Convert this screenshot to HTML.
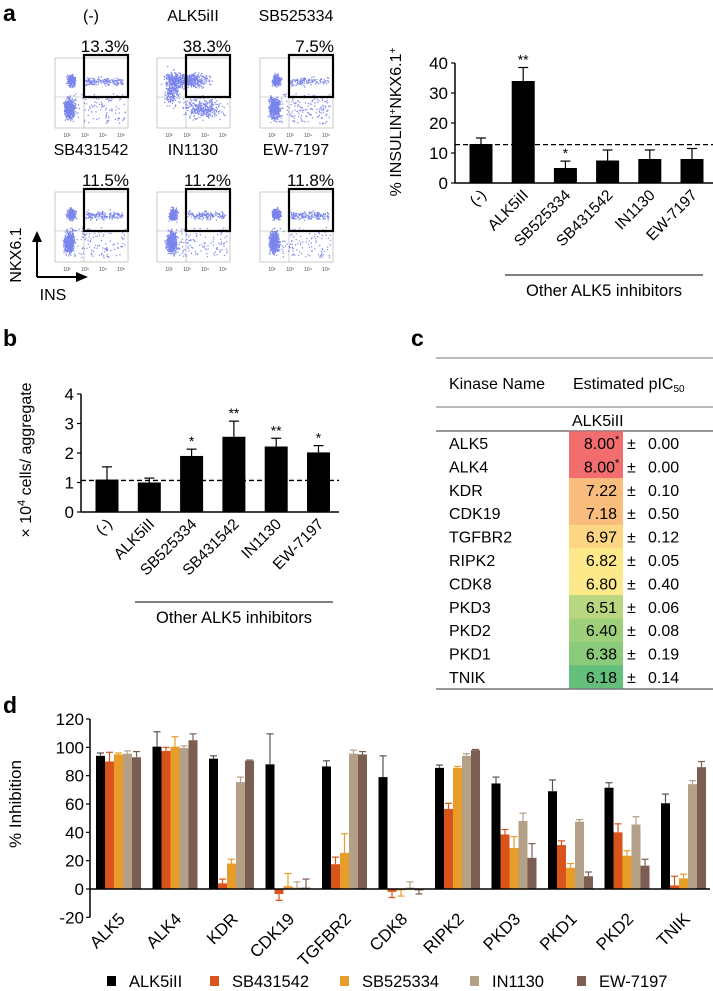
<!DOCTYPE html>
<html><head><meta charset="utf-8"><style>
html,body{margin:0;padding:0;background:#fff}
svg{display:block;font-family:"Liberation Sans",Arial,sans-serif}
</style></head><body>
<svg id="fig" width="713" height="991" viewBox="0 0 713 991" xmlns="http://www.w3.org/2000/svg">
<g id="pa"></g>
<g id="pab"></g>
<g id="pb"></g>
<g id="pc"></g>
<g id="pd"></g>
</svg>
<script>
// ---- Panel a bar data ----
const aCats = ["(-)","ALK5iII","SB525334","SB431542","IN1130","EW-7197"];
const aVals = [13,34,5,7.5,8,8];
const aErrTop = [15,38.5,7.3,11,11,11.5];
const aStars = ["","**","*","","",""];
const aBase = 12.8;
const aTicks = [0,10,20,30,40];
// ---- Panel b data ----
const bCats = ["(-)","ALK5iII","SB525334","SB431542","IN1130","EW-7197"];
const bVals = [1.1,1.0,1.9,2.55,2.22,2.02];
const bErrTop = [1.53,1.15,2.13,3.08,2.5,2.25];
const bStars = ["","","*","**","**","*"];
const bBase = 1.07;
const bTicks = [0,1,2,3,4];
// ---- Panel c data ----
const cNames = ["ALK5","ALK4","KDR","CDK19","TGFBR2","RIPK2","CDK8","PKD3","PKD2","PKD1","TNIK"];
const cVals = ["8.00","8.00","7.22","7.18","6.97","6.82","6.80","6.51","6.40","6.38","6.18"];
const cStar = [true,true,false,false,false,false,false,false,false,false,false];
const cSd = ["0.00","0.00","0.10","0.50","0.12","0.05","0.40","0.06","0.08","0.19","0.14"];
const cColors = ["#f26e6e","#f26e6e","#f8bc7c","#f8bc7c","#fdd684","#fde98a","#fbe98a","#b9d680","#9ed07c","#8cca7b","#64bf7c"];
// ---- Panel d data ----
const dCats = ["ALK5","ALK4","KDR","CDK19","TGFBR2","CDK8","RIPK2","PKD3","PKD1","PKD2","TNIK"];
const dSeries = ["ALK5iII","SB431542","SB525334","IN1130","EW-7197"];
const dColors = ["#000000","#d9541a","#e89d2b","#b3a087","#7b5d52"];
const dALK5iII = [94,100.5,92,88,86.5,79,85.5,74.5,69,71.5,60.5];
const dSB431542 = [90,97.5,4,-3.5,17.5,-2,56.5,38.5,31,40,2.5];
const dSB525334 = [95,100.5,18,2,25.5,-1,85.5,29,15,23.5,7.5];
const dIN1130 = [95.5,99.5,75.5,1,95.5,1,94,48,47.5,45.5,74];
const dEW7197 = [93,105,90.5,1,95,-1,98,22,9,16.5,86];
const dErrALK5iII = [2,10.5,2,21.5,4,15,2,4.5,8,3.5,6.5];
const dErrSB431542 = [6.5,2.5,3,4.5,5,4,4,3.5,3,6,6.5];
const dErrSB525334 = [1,7,3,9,13.5,4,1,8,3,3.5,3];
const dErrIN1130 = [2,1.5,3.5,4,2.5,4,1.5,5.5,1.5,5.5,2.5];
const dErrEW7197 = [4,4.5,0.5,6,2,2.5,0.5,10,3,4.5,4];
const dTicks = [-20,0,20,40,60,80,100,120];

const NS="http://www.w3.org/2000/svg";
function mk(parent,tag,attrs,text){const e=document.createElementNS(NS,tag);for(const k in attrs)e.setAttribute(k,attrs[k]);if(text!==undefined)e.textContent=text;parent.appendChild(e);return e;}

// ---------- Panel a flow plots ----------
const pa=document.getElementById('pa');
const L=mk(pa,'text',{x:3,y:21,'font-size':23,'font-weight':'bold'},'a');


const flowTitles=["(-)","ALK5iII","SB525334","SB431542","IN1130","EW-7197"];
const flowPct=["13.3%","38.3%","7.5%","11.5%","11.2%","11.8%"];
const flowSpread=[0.35,1.0,0.15,0.3,0.3,0.3];
let seed=7;function rnd(){seed=(seed*16807)%2147483647;return seed/2147483647;}
function gauss(){return (rnd()+rnd()+rnd()-1.5)/1.5;}
const colX=[55,157,260], rowY=[58,192];
for(let i=0;i<6;i++){
  const x0=colX[i%3], y0=rowY[Math.floor(i/3)], w=73, h=70;
  const g=mk(pa,'g',{});
  
  
  const t=mk(g,'text',{x:x0+36,y:y0-37,'font-size':16,'text-anchor':'middle'},flowTitles[i]);
  
  
  const p=mk(g,'text',{x:x0+74,y:y0-6,'font-size':17,'text-anchor':'end'},flowPct[i]);
  
  
  mk(g,'rect',{x:x0,y:y0,width:w,height:h,fill:'none',stroke:'#bbb','stroke-width':0.8});
  mk(g,'line',{x1:x0+29,y1:y0,x2:x0+29,y2:y0+h,stroke:'#aaa','stroke-width':0.6});
  mk(g,'line',{x1:x0,y1:y0+39,x2:x0+w,y2:y0+39,stroke:'#aaa','stroke-width':0.6});
  let d='';
  const s=flowSpread[i];
  for(let k=0;k<1100;k++){
    let px,py;
    const r=rnd();
    if(i===1){
      if(r<0.45){px=x0+30+gauss()*30;py=y0+22+gauss()*10;}
      else if(r<0.75){px=x0+45+gauss()*28;py=y0+50+gauss()*14;}
      else {px=x0+15+gauss()*10;py=y0+30+gauss()*25;}
    } else {
      if(r<0.5){px=x0+14+gauss()*7;py=y0+50+gauss()*14;}
      else if(r<0.72){px=x0+16+gauss()*6;py=y0+22+gauss()*8;}
      else if(r<0.72+0.25*s+0.08){px=x0+30+rnd()*38;py=y0+23+gauss()*6;}
      else {px=x0+10+rnd()*60;py=y0+35+rnd()*30;}
    }
    px=Math.max(x0+2,Math.min(x0+w-2,px));py=Math.max(y0+6,Math.min(y0+h-4,py));
    d+='M'+px.toFixed(1)+' '+py.toFixed(1)+'h1.2v1.2h-1.2z';
  }
  mk(g,'path',{d:d,fill:'#2233dd','fill-opacity':0.6});
  const gate=mk(g,'rect',{x:x0+29,y:y0-3,width:44,height:42,fill:'none',stroke:'#000','stroke-width':2.2});
  
  
  ['10²','10³','10⁴','10⁵'].forEach((lb,j)=>{mk(g,'text',{x:x0+12+j*18,y:y0+h+9,'font-size':5,'text-anchor':'middle',fill:'#444'},lb);});
}
mk(pa,'line',{x1:37,y1:277,x2:37,y2:240,stroke:'#000','stroke-width':2});
mk(pa,'path',{d:'M32 242 L37 231 L42 242 Z'});
mk(pa,'line',{x1:37,y1:277,x2:78,y2:277,stroke:'#000','stroke-width':2});
mk(pa,'path',{d:'M76 272 L88 277 L76 282 Z'});
const nk=mk(pa,'text',{x:21,y:255,'font-size':16,'text-anchor':'middle',transform:'rotate(-90 21 255)'},'NKX6.1');


const ins=mk(pa,'text',{x:53,y:300,'font-size':16,'text-anchor':'middle'},'INS');



// ---------- generic bar chart ----------
function barChart(gid,cats,vals,errs,stars,base,ticks,o){
  const g=document.getElementById(gid);
  const y=v=>o.y0-(v-ticks[0])*(o.y0-o.y1)/(ticks[ticks.length-1]-ticks[0]);
  const x=i=>o.xStart+o.step*i;
  mk(g,'line',{x1:o.axX,y1:y(ticks[ticks.length-1]),x2:o.axX,y2:o.y0,stroke:'#000','stroke-width':1.5});
  mk(g,'line',{x1:o.axX,y1:o.y0,x2:o.axEnd,y2:o.y0,stroke:'#000','stroke-width':1.5});
  ticks.forEach(t=>{
    mk(g,'line',{x1:o.axX-4,y1:y(t),x2:o.axX,y2:y(t),stroke:'#000','stroke-width':1.2});
    const tl=mk(g,'text',{x:o.axX-7,y:y(t)+6,'font-size':17,'text-anchor':'end'},String(t));
    
    
  });
  cats.forEach((c,i)=>{
    const cx=x(i);
    const b=mk(g,'rect',{x:cx-11.5,y:y(vals[i]),width:23,height:o.y0-y(vals[i]),fill:'#000'});
    
    
    mk(g,'line',{x1:cx,y1:y(vals[i]),x2:cx,y2:y(errs[i]),stroke:'#000','stroke-width':1.2});
    mk(g,'line',{x1:cx-5,y1:y(errs[i]),x2:cx+5,y2:y(errs[i]),stroke:'#000','stroke-width':1.2});
    if(stars[i]){const s=mk(g,'text',{x:cx,y:y(errs[i])-3,'font-size':14,'text-anchor':'middle'},stars[i]);
      
      }
    const lx=cx+6, ly=o.y0+13;
    const tl=mk(g,'text',{x:lx,y:ly,'font-size':15.5,'text-anchor':'end',transform:'rotate(-45 '+lx+' '+ly+')'},c);
    
    
  });
  mk(g,'line',{x1:o.axX,y1:y(base),x2:o.axEnd,y2:y(base),stroke:'#000','stroke-width':1.3,'stroke-dasharray':'5,3'});
  mk(g,'line',{x1:o.brX1,y1:o.brY,x2:o.brX2,y2:o.brY,stroke:'#000','stroke-width':1});
  const ot=mk(g,'text',{x:(o.brX1+o.brX2)/2,y:o.brY+21,'font-size':16.5,'text-anchor':'middle'},'Other ALK5 inhibitors');
  
  
}
barChart('pab',aCats,aVals,aErrTop,aStars,aBase,aTicks,{y0:183,y1:63,xStart:481,step:42.2,axX:455,axEnd:713,brX1:505,brX2:703,brY:275});
const pab=document.getElementById('pab');
const ay=mk(pab,'text',{x:401,y:122,'font-size':16,'text-anchor':'middle',transform:'rotate(-90 401 122)'});


ay.innerHTML='% INSULIN<tspan dy="-5" font-size="10">+</tspan><tspan dy="5">NKX6.1</tspan><tspan dy="-5" font-size="10">+</tspan>';

barChart('pb',bCats,bVals,bErrTop,bStars,bBase,bTicks,{y0:512,y1:394,xStart:107,step:42.3,axX:81,axEnd:339,brX1:135,brX2:333,brY:602});
const pb=document.getElementById('pb');
const bl=mk(pb,'text',{x:3,y:346,'font-size':23,'font-weight':'bold'},'b');


const by=mk(pb,'text',{x:31,y:460,'font-size':16,'text-anchor':'middle',transform:'rotate(-90 31 460)'});


by.innerHTML='× 10<tspan dy="-6" font-size="11">4</tspan><tspan dy="6"> cells/ aggregate</tspan>';

// ---------- Panel c table ----------
const pc=document.getElementById('pc');
const cl=mk(pc,'text',{x:411,y:346,'font-size':23,'font-weight':'bold'},'c');


mk(pc,'line',{x1:436,y1:358,x2:713,y2:358,stroke:'#777','stroke-width':1});
const h1=mk(pc,'text',{x:449,y:389,'font-size':16},'Kinase Name');


const h2=mk(pc,'text',{x:573,y:389,'font-size':16});


h2.innerHTML='Estimated pIC<tspan dy="3" font-size="10">50</tspan>';
mk(pc,'line',{x1:436,y1:407,x2:713,y2:407,stroke:'#777','stroke-width':1});
const h3=mk(pc,'text',{x:572,y:426,'font-size':16},'ALK5iII');


mk(pc,'line',{x1:436,y1:431,x2:713,y2:431,stroke:'#777','stroke-width':1.5});
const rowH=23.4;
cNames.forEach((n,i)=>{
  const yc=443+rowH*i;
  const r=mk(pc,'g',{});
  
  
  mk(r,'rect',{x:569,y:yc-rowH/2,width:54,height:rowH+0.5,fill:cColors[i]});
  mk(r,'text',{x:449,y:yc+6,'font-size':16},n);
  mk(r,'text',{x:cStar[i]?615:617,y:yc+6,'font-size':16,'text-anchor':'end'},cVals[i]);
  if(cStar[i]) mk(r,'text',{x:615,y:yc,'font-size':11},'*');
  mk(r,'text',{x:627,y:yc+6,'font-size':16},'±');
  mk(r,'text',{x:648,y:yc+6,'font-size':16},cSd[i]);
});
mk(pc,'line',{x1:436,y1:689,x2:713,y2:689,stroke:'#777','stroke-width':1.5});

// ---------- Panel d grouped bars ----------
const pd=document.getElementById('pd');
const dl=mk(pd,'text',{x:3,y:713,'font-size':23,'font-weight':'bold'},'d');


const dVals=[dALK5iII,dSB431542,dSB525334,dIN1130,dEW7197];
const dErrs=[dErrALK5iII,dErrSB431542,dErrSB525334,dErrIN1130,dErrEW7197];
const dy=v=>889-(v)*(889-719)/120;
const dGroupX=i=>96+56.5*i;
const bw=9;
mk(pd,'line',{x1:90,y1:dy(120),x2:90,y2:dy(-20),stroke:'#000','stroke-width':1.5});
dTicks.forEach(t=>{
  mk(pd,'line',{x1:86,y1:dy(t),x2:90,y2:dy(t),stroke:'#000','stroke-width':1.2});
  const tl=mk(pd,'text',{x:84,y:dy(t)+6,'font-size':17,'text-anchor':'end'},String(t));
  
  
});
dCats.forEach((c,i)=>{
  const gx=dGroupX(i);
  dSeries.forEach((s,j)=>{
    const v=dVals[j][i], e=dErrs[j][i], bx=gx+j*bw;
    const top=Math.min(dy(v),dy(0)), hh=Math.abs(dy(v)-dy(0));
    const b=mk(pd,'rect',{x:bx,y:top,width:bw,height:hh,fill:dColors[j]});
    
    
    const ee=v>=0?v+e:v-e;
    const ec=j===0?'#555':dColors[j];
    mk(pd,'line',{x1:bx+bw/2,y1:dy(v),x2:bx+bw/2,y2:dy(ee),stroke:ec,'stroke-width':1.2});
    mk(pd,'line',{x1:bx+bw/2-3.5,y1:dy(ee),x2:bx+bw/2+3.5,y2:dy(ee),stroke:ec,'stroke-width':1.2});
  });
  const lx=gx+30, ly=920;
  const tl=mk(pd,'text',{x:lx,y:ly,'font-size':17,'text-anchor':'end',transform:'rotate(-45 '+lx+' '+ly+')'},c);
  
  
});
mk(pd,'line',{x1:90,y1:dy(0),x2:710,y2:dy(0),stroke:'#000','stroke-width':1.5});
const dyt=mk(pd,'text',{x:21,y:804,'font-size':17,'text-anchor':'middle',transform:'rotate(-90 21 804)'},'% Inhibition');


const legX=[107,210,340,470,577];
dSeries.forEach((s,j)=>{
  const lg=mk(pd,'g',{});
  
  
  mk(lg,'rect',{x:legX[j],y:976,width:9,height:10,fill:dColors[j]});
  mk(lg,'text',{x:legX[j]+22,y:987,'font-size':16.5},s);
});
</script>
</body></html>
